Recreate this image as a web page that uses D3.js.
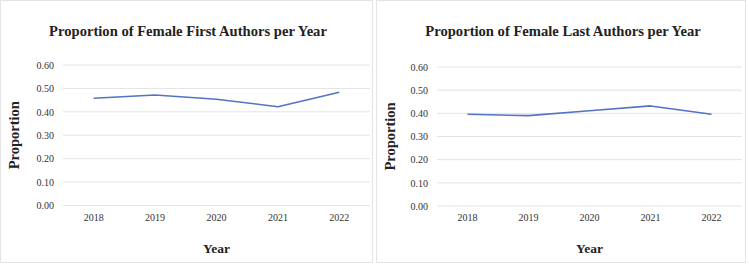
<!DOCTYPE html>
<html>
<head>
    <meta charset='utf-8'>
    <title>Female Authors</title>
    <script src='https://cdn.jsdelivr.net/npm/d3@7'></script>
    <style>
        body { margin: 0; background: #fff; }
        text { font-family: 'Liberation Serif', 'Times New Roman', serif; fill: #222; }
    </style>
</head>
<body>
    <svg width='749' height='264'></svg>
    <script>
        // data
        const years = ['2018', '2019', '2020', '2021', '2022']
        const firstAuthors = [0.458, 0.472, 0.454, 0.422, 0.484]
        const lastAuthors = [0.396, 0.390, 0.411, 0.432, 0.396]
        const yTicks = [0, 0.1, 0.2, 0.3, 0.4, 0.5, 0.6]
        const titles = ['Proportion of Female First Authors per Year', 'Proportion of Female Last Authors per Year']

        const svg = d3.select('svg')

        const panels = [
            { x: 0, w: 373, values: firstAuthors, title: titles[0], titleX: 188, plot: { l: 63, r: 370, t: 65, b: 205.5 } },
            { x: 376, w: 370, values: lastAuthors, title: titles[1], titleX: 187, plot: { l: 61, r: 366, t: 67, b: 206 } }
        ]

        panels.forEach(p => {
            const g = svg.append('g').attr('transform', `translate(${p.x},0)`)

            // panel frame
            g.append('rect')
                .attr('x', 0.5).attr('y', 0.5)
                .attr('width', p.w - 1).attr('height', 262)
                .attr('fill', '#fff').attr('stroke', '#e4e4e4')

            const x = d3.scaleBand(years, [p.plot.l, p.plot.r])
            const y = d3.scaleLinear([0, 0.6], [p.plot.b, p.plot.t])

            // gridlines
            g.append('g').selectAll('line').data(yTicks).join('line')
                .attr('x1', p.plot.l).attr('x2', p.plot.r)
                .attr('y1', d => y(d)).attr('y2', d => y(d))
                .attr('stroke', '#e3e3e3').attr('stroke-width', 1)

            // y axis labels
            const yAxis = d3.axisLeft(y).tickValues(yTicks).tickFormat(d3.format('.2f')).tickSize(0).tickPadding(9)
            const gy = g.append('g').attr('transform', `translate(${p.plot.l},0)`).call(yAxis)
            gy.select('.domain').remove()
            gy.selectAll('text').style('font-size', '10px').style('font-family', "'Liberation Serif', serif").style('fill', '#333')

            // x axis labels
            const xAxis = d3.axisBottom(x).tickSize(0).tickPadding(8)
            const gx = g.append('g').attr('transform', `translate(0,${p.plot.b})`).call(xAxis)
            gx.select('.domain').remove()
            gx.selectAll('text').style('font-size', '10px').style('font-family', "'Liberation Serif', serif").style('fill', '#333')

            // line
            const line = d3.line()
                .x((d, i) => x(years[i]) + x.bandwidth() / 2)
                .y(d => y(d))
            g.append('path').datum(p.values)
                .attr('d', line)
                .attr('fill', 'none')
                .attr('stroke', '#5473c4')
                .attr('stroke-width', 1.6)
                .attr('stroke-linejoin', 'round')

            // titles
            g.append('text')
                .attr('x', p.titleX).attr('y', 36)
                .attr('text-anchor', 'middle')
                .attr('font-size', '14.6px').attr('font-weight', 'bold')
                .text(p.title)

            g.append('text')
                .attr('transform', `translate(19,${(p.plot.t + p.plot.b) / 2}) rotate(-90)`)
                .attr('text-anchor', 'middle')
                .attr('font-size', '14.5px').attr('font-weight', 'bold')
                .text('Proportion')

            g.append('text')
                .attr('x', (p.plot.l + p.plot.r) / 2).attr('y', 253)
                .attr('text-anchor', 'middle')
                .attr('font-size', '13.5px').attr('font-weight', 'bold')
                .text('Year')
        })
    </script>
</body>
</html>
